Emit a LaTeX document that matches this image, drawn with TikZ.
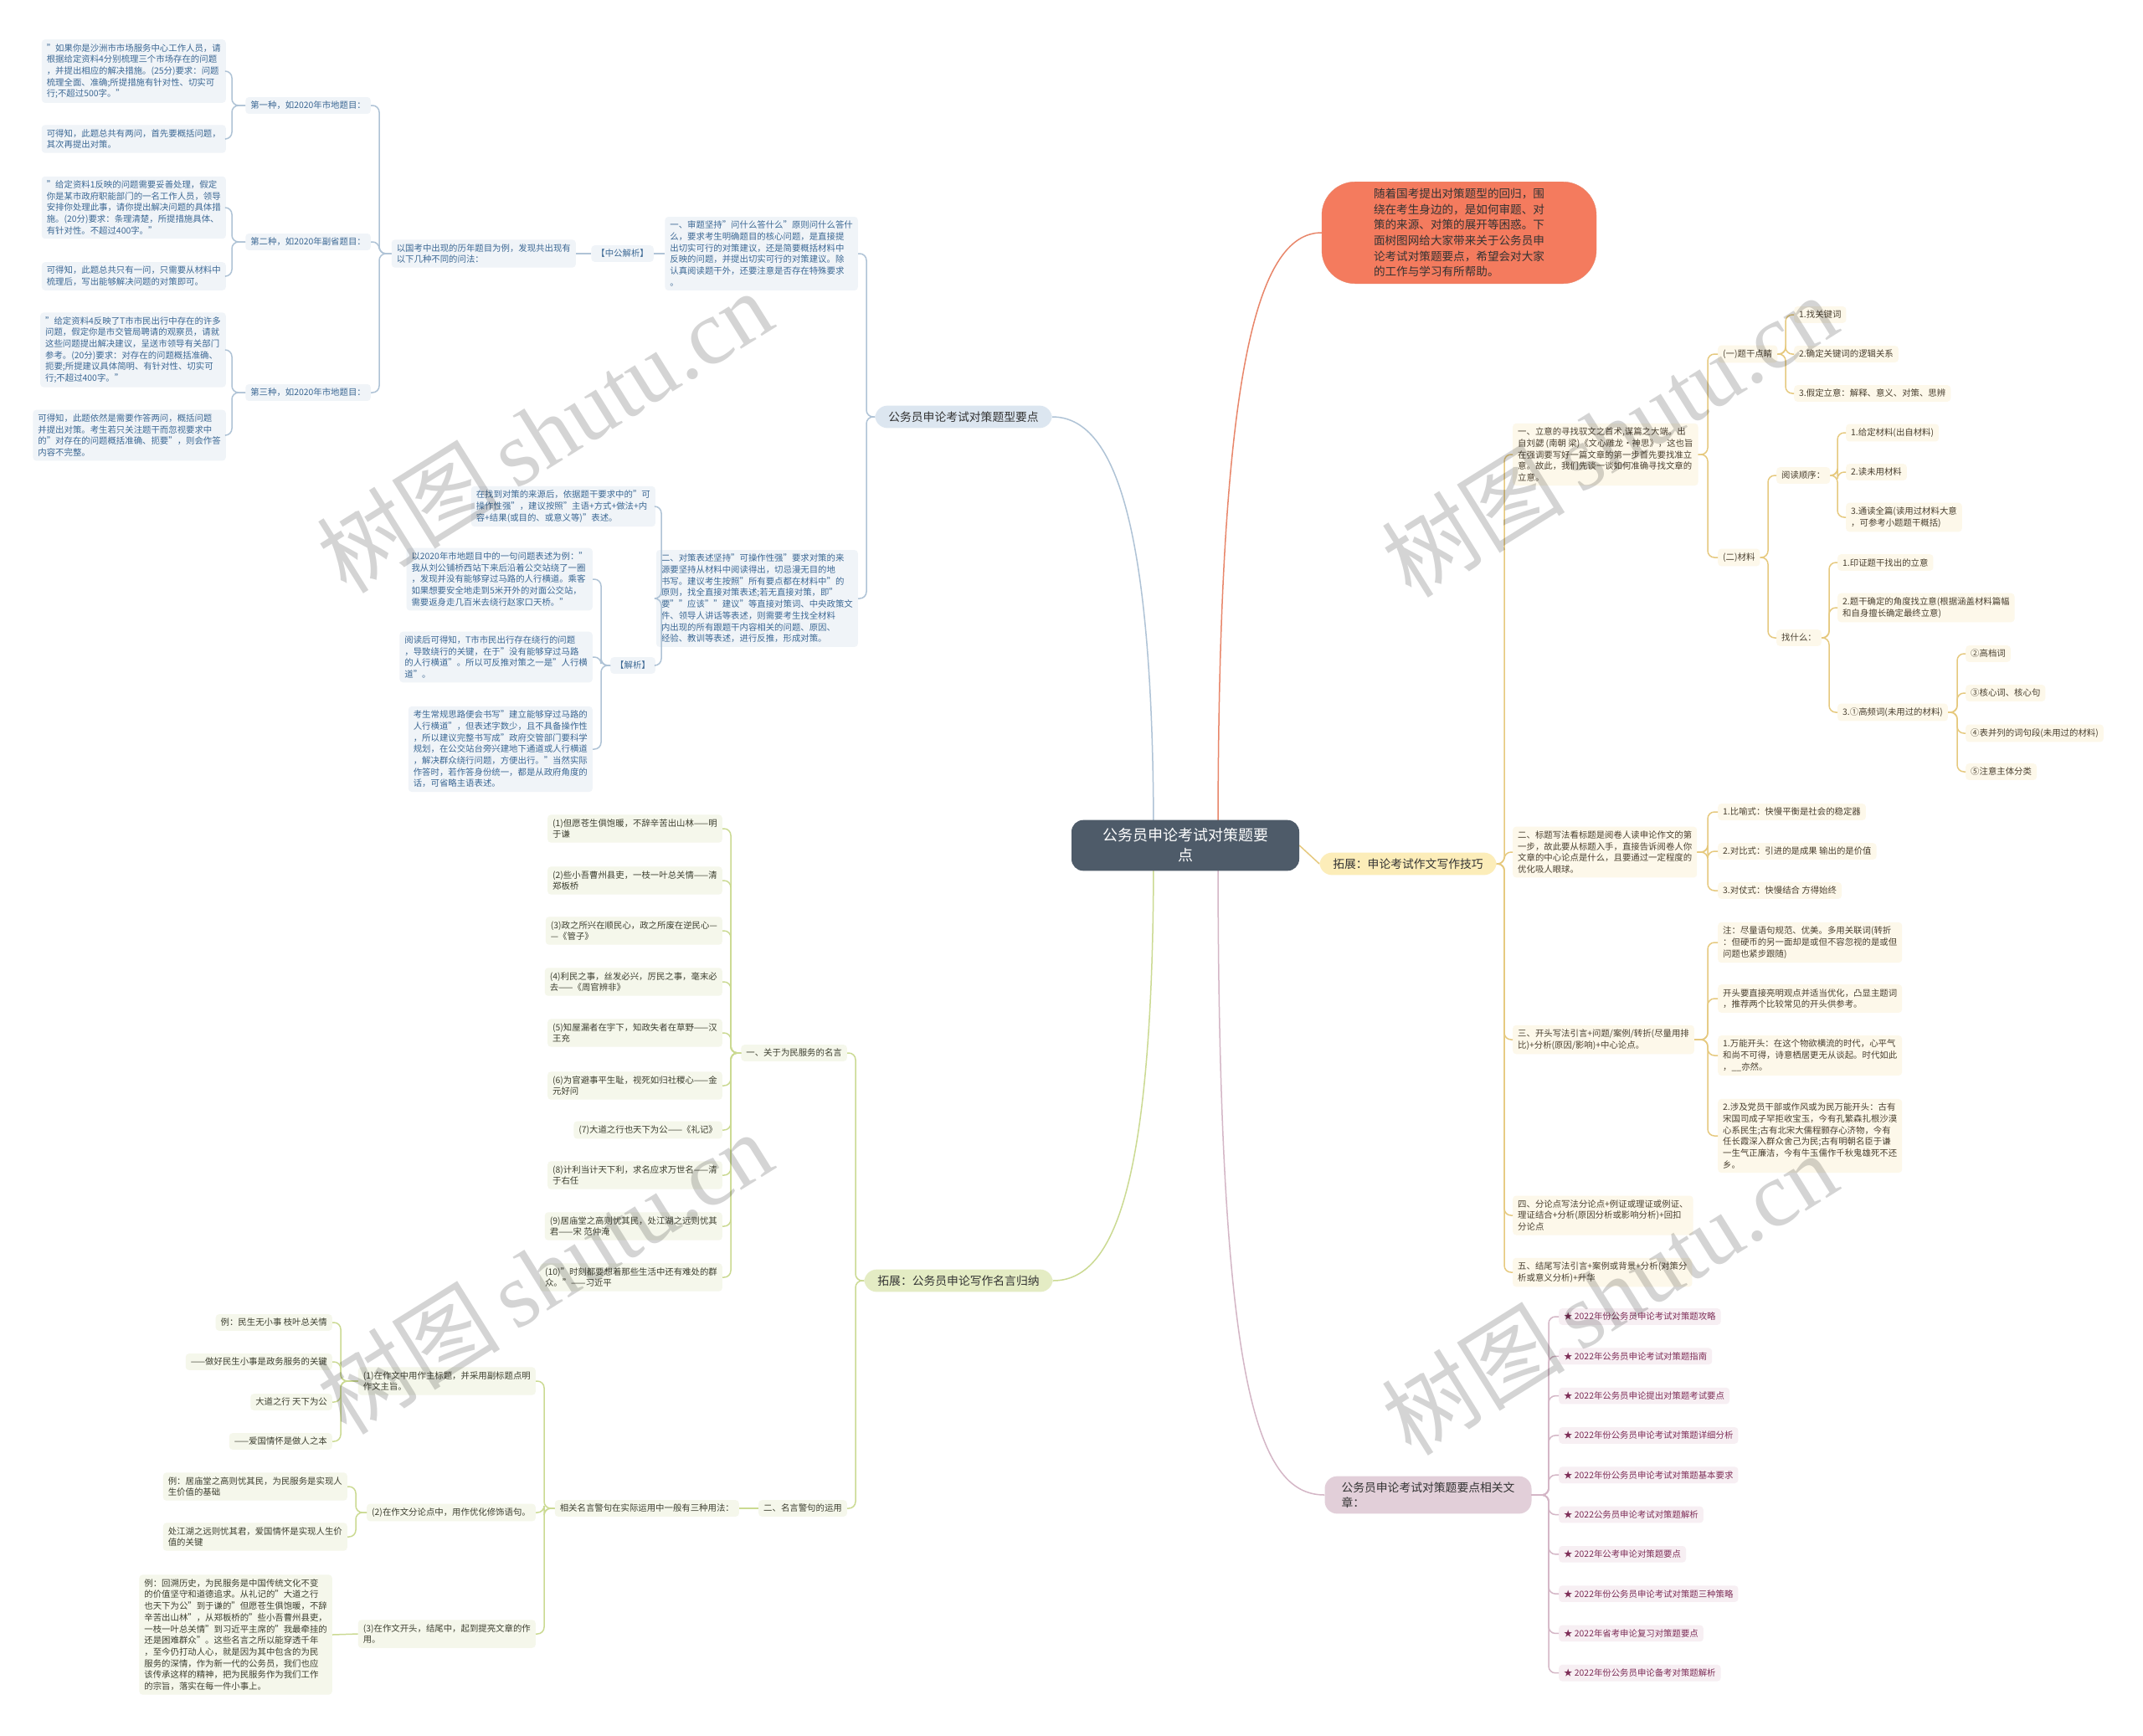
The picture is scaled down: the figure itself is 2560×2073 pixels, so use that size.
\documentclass[tikz,border=0pt]{standalone}
\usepackage{fontspec}
\setmainfont{Noto Sans CJK SC}
\newfontfamily\wmfont{Liberation Serif}
\usetikzlibrary{backgrounds}

\definecolor{rootfill}{HTML}{4E5B69}
\definecolor{maintext}{HTML}{333333}
\definecolor{redfill}{HTML}{F47B5E}
\definecolor{redline}{HTML}{E8866A}
\definecolor{bluemain}{HTML}{DCE6F0}
\definecolor{bluebox}{HTML}{F0F4F8}
\definecolor{bluetext}{HTML}{3C6894}
\definecolor{blueline}{HTML}{AFC3D6}
\definecolor{yellowmain}{HTML}{FCEDB9}
\definecolor{yellowbox}{HTML}{FDF8EA}
\definecolor{yellowtext}{HTML}{4A4030}
\definecolor{yellowline}{HTML}{E6C97E}
\definecolor{greenmain}{HTML}{E4ECC4}
\definecolor{greenbox}{HTML}{F5F7EB}
\definecolor{greentext}{HTML}{3D3F30}
\definecolor{greenline}{HTML}{CBDA92}
\definecolor{mauvemain}{HTML}{E2CFD9}
\definecolor{mauvebox}{HTML}{F7EFF3}
\definecolor{mauvetext}{HTML}{7E2E58}
\definecolor{mauveline}{HTML}{D4B6C6}

\tikzset{
  leaf/.style={rounded corners=4pt, inner xsep=6pt, inner ysep=5pt, align=left,
    font=\fontsize{10.4}{13.7}\selectfont},
  blueleaf/.style={leaf, fill=bluebox, text=bluetext},
  yellowleaf/.style={leaf, fill=yellowbox, text=yellowtext},
  greenleaf/.style={leaf, fill=greenbox, text=greentext},
  mauveleaf/.style={leaf, fill=mauvebox, text=mauvetext},
  mainnode/.style={rounded corners=15pt, inner xsep=16pt, inner ysep=7pt, align=left,
    text=maintext, font=\fontsize{13.8}{18}\selectfont},
  rootnode/.style={fill=rootfill, text=white, rounded corners=14pt, inner xsep=37pt,
    inner ysep=10pt, align=center, font=\fontsize{18}{24}\selectfont},
  rednode/.style={fill=redfill, draw=redline, rounded corners=40pt, inner xsep=62pt,
    inner ysep=8pt, align=left, text=black!80, font=\fontsize{13.6}{18.6}\selectfont},
  bluelink/.style={draw=blueline, line width=1.5pt, rounded corners=8pt},
  yellowlink/.style={draw=yellowline, line width=1.5pt, rounded corners=8pt},
  greenlink/.style={draw=greenline, line width=1.5pt, rounded corners=8pt},
  mauvelink/.style={draw=mauveline, line width=1.5pt, rounded corners=8pt},
  watermark/.style={rotate=32, text=black, text opacity=0.17,
    font=\fontsize{110}{110}\selectfont},
}

\begin{document}
\begin{tikzpicture}[x=1pt,y=-1pt]
\useasboundingbox (0,0) rectangle (2560,2073);

\node[rootnode] (root) at (1416,1010) {公务员申论考试对策题要\\点};

\node[rednode] (intro) at (1743,278) {随着国考提出对策题型的回归，围\\绕在考生身边的，是如何审题、对\\策的来源、对策的展开等困惑。下\\面树图网给大家带来关于公务员申\\论考试对策题要点，希望会对大家\\的工作与学习有所帮助。};
\node[mainnode, fill=bluemain] (tixing) at (1151,498) {公务员申论考试对策题型要点};
\node[mainnode, fill=yellowmain] (jiqiao) at (1682,1032) {拓展：申论考试作文写作技巧};
\node[mainnode, fill=greenmain] (mingyan) at (1145,1530) {拓展：公务员申论写作名言归纳};
\node[mainnode, fill=mauvemain, inner xsep=20pt] (xiangguan) at (1706,1786) {公务员申论考试对策题要点相关文\\章：};

% blue branch
\node[blueleaf, anchor=east] (shenti) at (1025,303) {一、审题坚持"问什么答什么"原则问什么答什\\么，要求考生明确题目的核心问题，是直接提\\出切实可行的对策建议，还是简要概括材料中\\反映的问题，并提出切实可行的对策建议。除\\认真阅读题干外，还要注意是否存在特殊要求\\。};
\node[blueleaf, anchor=east] (zhonggong) at (781,303) {【中公解析】};
\node[blueleaf, anchor=east] (wenfa) at (688,303) {以国考中出现的历年题目为例，发现共出现有\\以下几种不同的问法：};
\node[blueleaf, anchor=east] (wayA) at (443,126) {第一种，如2020年市地题目：};
\node[blueleaf, anchor=east] (wayB) at (443,289) {第二种，如2020年副省题目：};
\node[blueleaf, anchor=east] (wayC) at (443,469) {第三种，如2020年市地题目：};
\node[blueleaf, anchor=east] (wayAq) at (270,85) {"如果你是沙洲市市场服务中心工作人员，请\\根据给定资料4分别梳理三个市场存在的问题\\，并提出相应的解决措施。(25分)要求：问题\\梳理全面、准确;所提措施有针对性、切实可\\行;不超过500字。"};
\node[blueleaf, anchor=east] (wayAa) at (270,166) {可得知，此题总共有两问，首先要概括问题，\\其次再提出对策。};
\node[blueleaf, anchor=east] (wayBq) at (270,248) {"给定资料1反映的问题需要妥善处理，假定\\你是某市政府职能部门的一名工作人员，领导\\安排你处理此事，请你提出解决问题的具体措\\施。(20分)要求：条理清楚，所提措施具体、\\有针对性。不超过400字。"};
\node[blueleaf, anchor=east] (wayBa) at (270,330) {可得知，此题总共只有一问，只需要从材料中\\梳理后，写出能够解决问题的对策即可。};
\node[blueleaf, anchor=east] (wayCq) at (270,418) {"给定资料4反映了T市市民出行中存在的许多\\问题，假定你是市交管局聘请的观察员，请就\\这些问题提出解决建议，呈送市领导有关部门\\参考。(20分)要求：对存在的问题概括准确、\\扼要;所提建议具体简明、有针对性、切实可\\行;不超过400字。"};
\node[blueleaf, anchor=east] (wayCa) at (270,520) {可得知，此题依然是需要作答两问，概括问题\\并提出对策。考生若只关注题干而忽视要求中\\的"对存在的问题概括准确、扼要"，则会作答\\内容不完整。};

\node[blueleaf, anchor=east] (biaoshu) at (1025,715) {二、对策表述坚持"可操作性强"要求对策的来\\源要坚持从材料中阅读得出，切忌漫无目的地\\书写。建议考生按照"所有要点都在材料中"的\\原则，找全直接对策表述;若无直接对策，即"\\要""应该""建议"等直接对策词、中央政策文\\件、领导人讲话等表述，则需要考生找全材料\\内出现的所有跟题干内容相关的问题、原因、\\经验、教训等表述，进行反推，形成对策。};
\node[blueleaf, anchor=east] (laiyuan) at (783,605) {在找到对策的来源后，依据题干要求中的"可\\操作性强"，建议按照"主语+方式+做法+内\\容+结果(或目的、或意义等)"表述。};
\node[blueleaf, anchor=east] (jiexi) at (783,795) {【解析】};
\node[blueleaf, anchor=east] (liA) at (708,692) {以2020年市地题目中的一句问题表述为例："\\我从刘公铺桥西站下来后沿着公交站绕了一圈\\，发现并没有能够穿过马路的人行横道。乘客\\如果想要安全地走到5米开外的对面公交站，\\需要返身走几百米去绕行赵家口天桥。"};
\node[blueleaf, anchor=east] (liB) at (708,785) {阅读后可得知，T市市民出行存在绕行的问题\\，导致绕行的关键，在于"没有能够穿过马路\\的人行横道"。所以可反推对策之一是"人行横\\道"。};
\node[blueleaf, anchor=east] (liC) at (708,895) {考生常规思路便会书写"建立能够穿过马路的\\人行横道"，但表述字数少，且不具备操作性\\，所以建议完整书写成"政府交管部门要科学\\规划，在公交站台旁兴建地下通道或人行横道\\，解决群众绕行问题，方便出行。"当然实际\\作答时，若作答身份统一，都是从政府角度的\\话，可省略主语表述。};

\draw[bluelink] (tixing.west) -| ([xshift=10pt]shenti.east) -- (shenti.east);
\draw[bluelink] (tixing.west) -| ([xshift=10pt]biaoshu.east) -- (biaoshu.east);
\draw[bluelink] (shenti.west) -- (zhonggong.east);
\draw[bluelink] (zhonggong.west) -- (wenfa.east);
\foreach \c in {wayA,wayB,wayC}
  \draw[bluelink] (wenfa.west) -| ([xshift=10pt]\c.east) -- (\c.east);
\foreach \p/\c in {wayA/wayAq,wayA/wayAa,wayB/wayBq,wayB/wayBa,wayC/wayCq,wayC/wayCa}
  \draw[bluelink] (\p.west) -| ([xshift=7pt]\c.east) -- (\c.east);
\draw[bluelink] (biaoshu.west) -| ([xshift=7pt]laiyuan.east) -- (laiyuan.east);
\draw[bluelink] (biaoshu.west) -| ([xshift=7pt]jiexi.east) -- (jiexi.east);
\foreach \c in {liA,liB,liC}
  \draw[bluelink] (jiexi.west) -| ([xshift=10pt]\c.east) -- (\c.east);

% yellow branch
\node[yellowleaf, anchor=west] (liyi) at (1807,543) {一、立意的寻找驭文之首术,谋篇之大端。出\\自刘勰 (南朝 梁)《文心雕龙·神思》，这也旨\\在强调要写好一篇文章的第一步首先要找准立\\意。故此，我们先谈一谈如何准确寻找文章的\\立意。};
\node[yellowleaf, anchor=west] (tigan) at (2052,423) {(一)题干点睛};
\node[yellowleaf, anchor=west] (tiganA) at (2143,376) {1.找关键词};
\node[yellowleaf, anchor=west] (tiganB) at (2143,423) {2.确定关键词的逻辑关系};
\node[yellowleaf, anchor=west] (tiganC) at (2143,470) {3.假定立意：解释、意义、对策、思辨};
\node[yellowleaf, anchor=west] (cailiao) at (2052,666) {(二)材料};
\node[yellowleaf, anchor=west] (shunxu) at (2122,568) {阅读顺序：};
\node[yellowleaf, anchor=west] (shunxuA) at (2205,517) {1.给定材料(出自材料)};
\node[yellowleaf, anchor=west] (shunxuB) at (2205,564) {2.读未用材料};
\node[yellowleaf, anchor=west] (shunxuC) at (2205,618) {3.通读全篇(读用过材料大意\\，可参考小题题干概括)};
\node[yellowleaf, anchor=west] (zhao) at (2122,762) {找什么：};
\node[yellowleaf, anchor=west] (zhaoA) at (2195,672) {1.印证题干找出的立意};
\node[yellowleaf, anchor=west] (zhaoB) at (2195,726) {2.题干确定的角度找立意(根据涵盖材料篇幅\\和自身擅长确定最终立意)};
\node[yellowleaf, anchor=west] (zhaoC) at (2195,851) {3.①高频词(未用过的材料)};
\node[yellowleaf, anchor=west] (ciA) at (2348,781) {②高档词};
\node[yellowleaf, anchor=west] (ciB) at (2348,828) {③核心词、核心句};
\node[yellowleaf, anchor=west] (ciC) at (2348,876) {④表并列的词句段(未用过的材料)};
\node[yellowleaf, anchor=west] (ciD) at (2348,922) {⑤注意主体分类};
\node[yellowleaf, anchor=west] (biaoti) at (1807,1018) {二、标题写法看标题是阅卷人读申论作文的第\\一步，故此要从标题入手，直接告诉阅卷人你\\文章的中心论点是什么，且要通过一定程度的\\优化吸人眼球。};
\node[yellowleaf, anchor=west] (biaotiA) at (2052,970) {1.比喻式：快慢平衡是社会的稳定器};
\node[yellowleaf, anchor=west] (biaotiB) at (2052,1017) {2.对比式：引进的是成果 输出的是价值};
\node[yellowleaf, anchor=west] (biaotiC) at (2052,1064) {3.对仗式：快慢结合 方得始终};
\node[yellowleaf, anchor=west] (kaitou) at (1807,1242) {三、开头写法引言+问题/案例/转折(尽量用排\\比)+分析(原因/影响)+中心论点。};
\node[yellowleaf, anchor=west] (kaitouA) at (2052,1126) {注：尽量语句规范、优美。多用关联词(转折\\：但硬币的另一面却是或但不容忽视的是或但\\问题也紧步跟随)};
\node[yellowleaf, anchor=west] (kaitouB) at (2052,1193) {开头要直接亮明观点并适当优化，凸显主题词\\，推荐两个比较常见的开头供参考。};
\node[yellowleaf, anchor=west] (kaitouC) at (2052,1261) {1.万能开头：在这个物欲横流的时代，心平气\\和尚不可得，诗意栖居更无从谈起。时代如此\\，\_\_亦然。};
\node[yellowleaf, anchor=west] (kaitouD) at (2052,1357) {2.涉及党员干部或作风或为民万能开头：古有\\宋国司成子罕拒收宝玉，今有孔繁森扎根沙漠\\心系民生;古有北宋大儒程颢存心济物，今有\\任长霞深入群众舍己为民;古有明朝名臣于谦\\一生气正廉洁，今有牛玉儒作千秋鬼雄死不还\\乡。};
\node[yellowleaf, anchor=west] (fenlun) at (1807,1452) {四、分论点写法分论点+例证或理证或例证、\\理证结合+分析(原因分析或影响分析)+回扣\\分论点};
\node[yellowleaf, anchor=west] (jiewei) at (1807,1520) {五、结尾写法引言+案例或背景+分析(对策分\\析或意义分析)+升华};

\foreach \c in {liyi,biaoti,kaitou,fenlun,jiewei}
  \draw[yellowlink] (jiqiao.east) -| ([xshift=-10pt]\c.west) -- (\c.west);
\foreach \c in {tigan,cailiao}
  \draw[yellowlink] (liyi.east) -| ([xshift=-12pt]\c.west) -- (\c.west);
\foreach \c in {tiganA,tiganB,tiganC}
  \draw[yellowlink] (tigan.east) -| ([xshift=-10pt]\c.west) -- (\c.west);
\foreach \c in {shunxu,zhao}
  \draw[yellowlink] (cailiao.east) -| ([xshift=-10pt]\c.west) -- (\c.west);
\foreach \c in {shunxuA,shunxuB,shunxuC}
  \draw[yellowlink] (shunxu.east) -| ([xshift=-10pt]\c.west) -- (\c.west);
\foreach \c in {zhaoA,zhaoB,zhaoC}
  \draw[yellowlink] (zhao.east) -| ([xshift=-10pt]\c.west) -- (\c.west);
\foreach \c in {ciA,ciB,ciC,ciD}
  \draw[yellowlink] (zhaoC.east) -| ([xshift=-10pt]\c.west) -- (\c.west);
\foreach \c in {biaotiA,biaotiB,biaotiC}
  \draw[yellowlink] (biaoti.east) -| ([xshift=-12pt]\c.west) -- (\c.west);
\foreach \c in {kaitouA,kaitouB,kaitouC,kaitouD}
  \draw[yellowlink] (kaitou.east) -| ([xshift=-12pt]\c.west) -- (\c.west);

% green branch
\node[greenleaf, anchor=east] (weimin) at (1012,1258) {一、关于为民服务的名言};
\foreach \y/\t [count=\i] in {
  990/{(1)但愿苍生俱饱暖，不辞辛苦出山林——明\\于谦},
  1052/{(2)些小吾曹州县吏，一枝一叶总关情——清\\郑板桥},
  1112/{(3)政之所兴在顺民心，政之所废在逆民心—\\—《管子》},
  1173/{(4)利民之事，丝发必兴，厉民之事，毫末必\\去——《周官辨非》},
  1234/{(5)知屋漏者在宇下，知政失者在草野——汉\\王充},
  1297/{(6)为官避事平生耻，视死如归社稷心——金\\元好问},
  1350/{(7)大道之行也天下为公——《礼记》},
  1404/{(8)计利当计天下利，求名应求万世名——清\\于右任},
  1465/{(9)居庙堂之高则忧其民，处江湖之远则忧其\\君——宋 范仲淹},
  1526/{(10)"时刻都要想着那些生活中还有难处的群\\众。"——习近平}}
{
  \node[greenleaf, anchor=east] (quote\i) at (863,\y) {\t};
  \draw[greenlink] (weimin.west) -| ([xshift=10pt]quote\i.east) -- (quote\i.east);
}
\node[greenleaf, anchor=east] (yunyong) at (1012,1802) {二、名言警句的运用};
\node[greenleaf, anchor=east] (yongfa) at (883,1802) {相关名言警句在实际运用中一般有三种用法：};
\node[greenleaf, anchor=east] (yongfaA) at (640,1650) {(1)在作文中用作主标题，并采用副标题点明\\作文主旨。};
\node[greenleaf, anchor=east] (yongfaB) at (640,1807) {(2)在作文分论点中，用作优化修饰语句。};
\node[greenleaf, anchor=east] (yongfaC) at (640,1952) {(3)在作文开头，结尾中，起到提亮文章的作\\用。};
\node[greenleaf, anchor=east] (exA) at (397,1580) {例：民生无小事 枝叶总关情};
\node[greenleaf, anchor=east] (exB) at (397,1627) {——做好民生小事是政务服务的关键};
\node[greenleaf, anchor=east] (exC) at (397,1675) {大道之行 天下为公};
\node[greenleaf, anchor=east] (exD) at (397,1722) {——爱国情怀是做人之本};
\node[greenleaf, anchor=east] (exE) at (415,1776) {例：居庙堂之高则忧其民，为民服务是实现人\\生价值的基础};
\node[greenleaf, anchor=east] (exF) at (415,1836) {处江湖之远则忧其君，爱国情怀是实现人生价\\值的关键};
\node[greenleaf, anchor=east] (exG) at (397,1953) {例：回溯历史，为民服务是中国传统文化不变\\的价值坚守和道德追求。从礼记的"大道之行\\也天下为公"到于谦的"但愿苍生俱饱暖，不辞\\辛苦出山林"，从郑板桥的"些小吾曹州县吏，\\一枝一叶总关情"到习近平主席的"我最牵挂的\\还是困难群众"。这些名言之所以能穿透千年\\，至今仍打动人心，就是因为其中包含的为民\\服务的深情，作为新一代的公务员，我们也应\\该传承这样的精神，把为民服务作为我们工作\\的宗旨，落实在每一件小事上。};

\foreach \c in {weimin,yunyong}
  \draw[greenlink] (mingyan.west) -| ([xshift=10pt]\c.east) -- (\c.east);
\draw[greenlink] (yunyong.west) -- (yongfa.east);
\foreach \c in {yongfaA,yongfaB,yongfaC}
  \draw[greenlink] (yongfa.west) -| ([xshift=10pt]\c.east) -- (\c.east);
\foreach \c in {exA,exB,exC,exD}
  \draw[greenlink] (yongfaA.west) -| ([xshift=10pt]\c.east) -- (\c.east);
\foreach \c in {exE,exF}
  \draw[greenlink] (yongfaB.west) -| ([xshift=10pt]\c.east) -- (\c.east);
\draw[greenlink] (yongfaC.west) -- (exG.east);

% mauve branch
\foreach \t [count=\i] in {2022年份公务员申论考试对策题攻略, 2022年公务员申论考试对策题指南,
  2022年公务员申论提出对策题考试要点, 2022年份公务员申论考试对策题详细分析,
  2022年份公务员申论考试对策题基本要求, 2022公务员申论考试对策题解析,
  2022年公考申论对策题要点, 2022年份公务员申论考试对策题三种策略,
  2022年省考申论复习对策题要点, 2022年份公务员申论备考对策题解析}
{
  \node[mauveleaf, anchor=west] (article\i) at (1862,1525.7+47.3*\i) {★ \t};
  \draw[mauvelink] (xiangguan.east) -| ([xshift=-12pt]article\i.west) -- (article\i.west);
}

\begin{pgfonlayer}{background}
  \fill[white] (0,0) rectangle (2560,2073);
  \draw[line width=1.5pt, draw=redline] (1455,1000) .. controls (1455,450) and (1500,278) .. (intro.west);
  \draw[bluelink] (1378,1000) .. controls (1378,620) and (1330,498) .. (tixing.east);
  \draw[yellowlink] (root.east) -- (jiqiao.west);
  \draw[greenlink] (1378,1020) .. controls (1378,1420) and (1330,1530) .. (mingyan.east);
  \draw[mauvelink] (1455,1020) .. controls (1455,1650) and (1500,1786) .. (xiangguan.west);
\end{pgfonlayer}

% watermarks
\foreach \p [count=\i] in {(650,515),(1922,520),(650,1520),(1922,1545)}
  \node[watermark] (mark\i) at \p {树图\,{\wmfont shutu.cn}};
\end{tikzpicture}
\end{document}
